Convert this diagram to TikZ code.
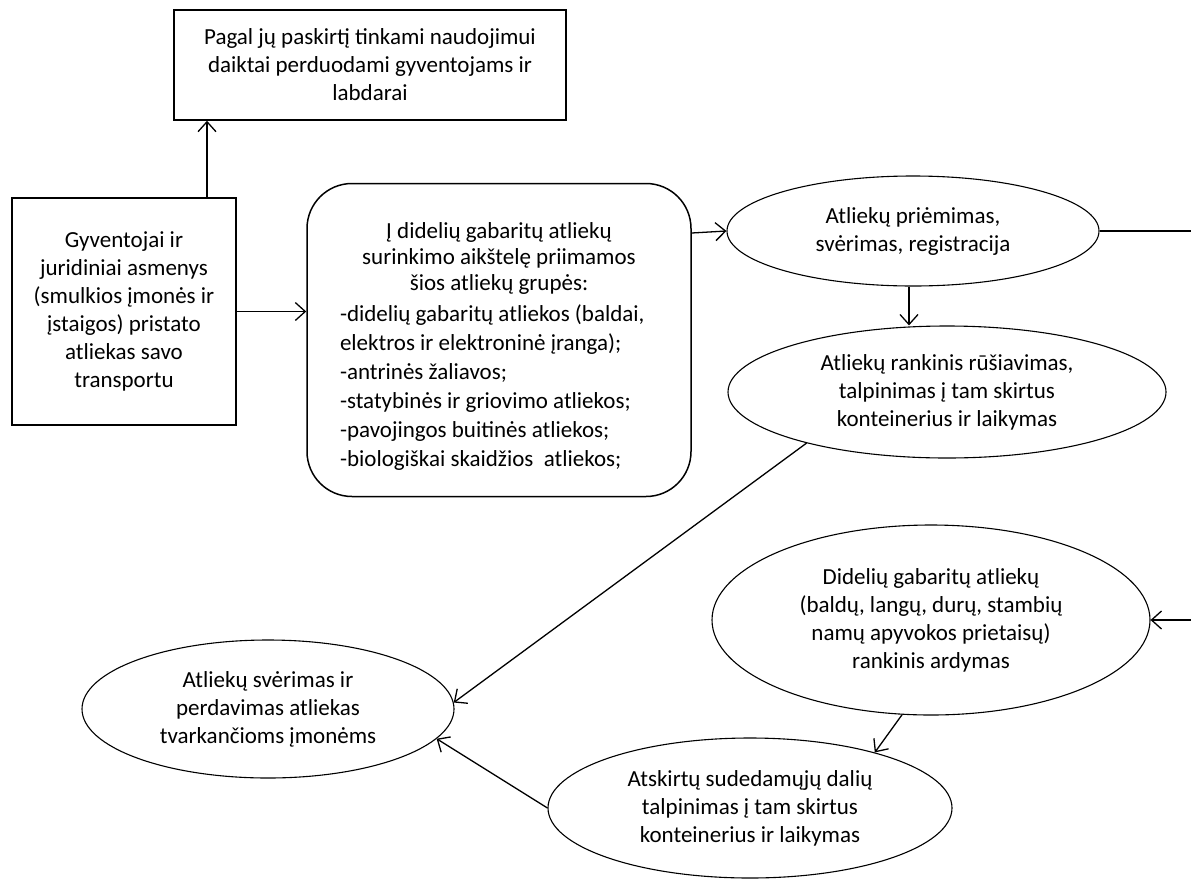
\documentclass[tikz,border=0pt]{standalone}
\usepackage{fontspec}
\setmainfont{Carlito}
\usetikzlibrary{shapes.geometric,arrows.meta}
\begin{document}
\begin{tikzpicture}[x=1pt,y=-1pt,
  txt/.style={font=\fontsize{23}{28}\selectfont},
  rbox/.style={draw,line width=1.5pt,inner sep=0pt,align=center,txt},
  ell/.style={draw,ellipse,line width=1.1pt,inner sep=0pt,align=center,txt},
  conn/.style={line width=1.3pt,-{Straight Barb[length=10pt,width=18pt,line width=1.3pt]}},
]
\path[use as bounding box] (0,0) rectangle (1191,884);
\clip (0,0) rectangle (1191,884);

\node[rbox,minimum width=392pt,minimum height=110pt] (top) at (370,65)
  {Pagal jų paskirtį tinkami naudojimui\\daiktai perduodami gyventojams ir\\labdarai};

\node[rbox,minimum width=224pt,minimum height=227pt] (left) at (124,311.5)
  {Gyventojai ir\\juridiniai asmenys\\(smulkios įmonės ir\\įstaigos) pristato\\atliekas savo\\transportu};

\node[rbox,align=left,rounded corners=45pt,minimum width=384pt,minimum height=313pt] (rb) at (499,340)
  {\makebox[318pt][c]{\rule{0pt}{28pt}Į didelių gabaritų atliekų}\\[-2pt]
   \makebox[318pt][c]{surinkimo aikštelę priimamos}\\[-2pt]
   \makebox[318pt][c]{šios atliekų grupės:}\\[3pt]
   -didelių gabaritų atliekos (baldai,\\[1pt]
   elektros ir elektroninė įranga);\\[1pt]
   -antrinės žaliavos;\\[1pt]
   -statybinės ir griovimo atliekos;\\[1pt]
   -pavojingos buitinės atliekos;\\[1pt]
   -biologiškai skaidžios\ \ atliekos;};

\node[ell,minimum width=372pt,minimum height=110pt] (e1) at (913,231)
  {Atliekų priėmimas,\\svėrimas, registracija};

\node[ell,minimum width=438pt,minimum height=132pt] (e2) at (947,392)
  {Atliekų rankinis rūšiavimas,\\talpinimas į tam skirtus\\konteinerius ir laikymas};

\node[ell,minimum width=438pt,minimum height=190pt] (e3) at (931,620)
  {Didelių gabaritų atliekų\\(baldų, langų, durų, stambių\\namų apyvokos prietaisų)\\rankinis ardymas};

\node[ell,minimum width=372pt,minimum height=138pt] (e4) at (268,709)
  {Atliekų svėrimas ir\\perdavimas atliekas\\tvarkančioms įmonėms};

\node[ell,minimum width=404pt,minimum height=140pt] (e5) at (750,808)
  {Atskirtų sudedamųjų dalių\\talpinimas į tam skirtus\\konteinerius ir laikymas};

\draw[conn] ([xshift=83pt]left.north) -- ([xshift=83pt]left.north |- top.south);
\draw[conn] (left.east) -- (left.east -| rb.west);
\draw[conn] ([yshift=107pt]rb.east) -- (e1.west);
\draw[conn] (e1.east) -- ++(110,0) |- (e3.east);
\draw[conn] ([xshift=-4pt]e1.south) -- ([xshift=-4pt]e1.south |- e2.north);
\draw[conn] (e2.200) -- (e4.2);
\draw[conn] (e3.253) -- (e5.24);
\draw[conn] (e5.west) -- (e4.-10);
\end{tikzpicture}
\end{document}
